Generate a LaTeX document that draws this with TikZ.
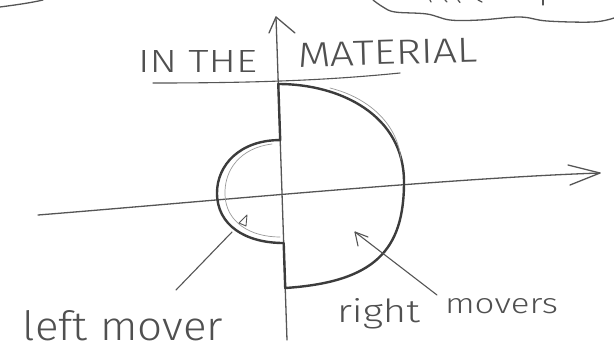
\documentclass[tikz,border=0pt]{standalone}
\usepackage{fontspec}
\setmainfont{Fira Sans Light}
\usepackage{graphicx}
\usetikzlibrary{calc}
\definecolor{pencil}{HTML}{3C3C3C}
\definecolor{pencilaxis}{HTML}{555555}
\definecolor{pencillight}{HTML}{9A9A9A}
\definecolor{pencilink}{HTML}{505050}
\begin{document}
\begin{tikzpicture}[x=1pt,y=-1pt,
  axisline/.style={draw=pencilaxis, line width=1.3pt, line cap=round, line join=round},
  shapeline/.style={draw=pencil, line width=2.4pt, line cap=round, line join=round},
  thinline/.style={draw=pencillight, line width=0.7pt, line cap=round},
  pointer/.style={draw=pencilaxis, line width=1.1pt, line cap=round, line join=round},
  hand/.style={inner sep=0pt, outer sep=0pt, text=pencilink, anchor=base west},
  cloudline/.style={draw=pencilaxis, line width=1.3pt, line cap=round}]
\useasboundingbox (0,0) rectangle (614,357);
\fill[white] (0,0) rectangle (614,357);

% clouds cut by the top edge
\draw[cloudline] (0,7) .. controls (15,5) and (30,3) .. (43,0);
\draw[cloudline] plot[smooth, tension=0.6] coordinates {(373,0) (383,7) (395,12) (427,14) (450,20) (480,20) (520,17) (547,21) (593,22) (614,18)};
\draw[cloudline] (543,0) -- (543,5);
\draw[cloudline] (430,0) -- (431,2);
\draw[cloudline] (445,0) -- (447,2);
\draw[cloudline] (458,0) -- (460,2.5);
\draw[cloudline] (478,0) -- (482,2);

% axes
\coordinate (vbot) at (287,340);
\coordinate (vtip) at (276,17);
\coordinate (vbl) at (269,33);
\coordinate (vbr) at (295,33);
\coordinate (hstart) at (38,215);
\coordinate (htip) at (600,173);
\coordinate (hbu) at (568,165);
\coordinate (hbd) at (570,185);
\draw[axisline] (vbot) -- (vtip);
\draw[axisline] (vbl) -- (vtip) -- (vbr);
\draw[axisline] (hstart) .. controls (200,202) and (450,178) .. (htip);
\draw[axisline] (hbu) -- (htip) -- (hbd);

% heading
\node[hand] (inthe) at (138,72) {\resizebox{119pt}{22pt}{IN THE}};
\node[hand, rotate=1.6] (material) at (298,67) {\resizebox{180pt}{24pt}{MATERIAL}};
\coordinate (ul1) at (153,83);
\coordinate (ul2) at (400,73);
\draw[axisline, line width=1.1pt] (ul1) .. controls (260,83) and (330,80) .. (ul2);

% shifted occupation: left half-disc + right half-disc
\coordinate (dtop) at ($(vbot)!0.7926!(vtip)$);
\coordinate (ltop) at ($(vbot)!0.619!(vtip)$);
\coordinate (lbot) at ($(vbot)!0.3003!(vtip)$);
\coordinate (dbot) at ($(vbot)!0.161!(vtip)$);
\draw[shapeline] (dtop) -- (ltop)
  .. controls (240,140) and (217,165) .. (217,193)
  .. controls (217,225) and (245,243) .. (lbot)
  -- (dbot)
  .. controls (375,282) and (404,250) .. (404,182)
  .. controls (404,115) and (340,84) .. (dtop) -- cycle;
\draw[thinline] (272,144) .. controls (240,148) and (224,170) .. (225,195)
  .. controls (226,222) and (250,237) .. (280,237);
\draw[thinline] (330,88) .. controls (370,98) and (398,125) .. (401,160);

% pointers
\coordinate (lpstart) at (176,290);
\coordinate (lpend) at (232,232);
\coordinate (lta) at (247,215);
\coordinate (ltb) at (239,223);
\coordinate (ltc) at (246,226);
\draw[pointer] (lpstart) -- (lpend);
\draw[pointer, line width=0.9pt] (lta) -- (ltb) -- (ltc) -- cycle;
\coordinate (rpstart) at (437,295);
\coordinate (rptip) at (355,232);
\coordinate (rba) at (358,246);
\coordinate (rbb) at (368,237);
\draw[pointer] (rpstart) -- (rptip);
\draw[pointer] (rba) -- (rptip) -- (rbb);

% labels
\node[hand] (leftmover) at (23,340) {\resizebox{200pt}{30pt}{left mover}};
\node[hand] (rightmovers) at (337,322) {\resizebox{83pt}{24pt}{right}\hspace{25pt}\raisebox{9pt}{\resizebox{113pt}{15pt}{movers}}};
\end{tikzpicture}
\end{document}
